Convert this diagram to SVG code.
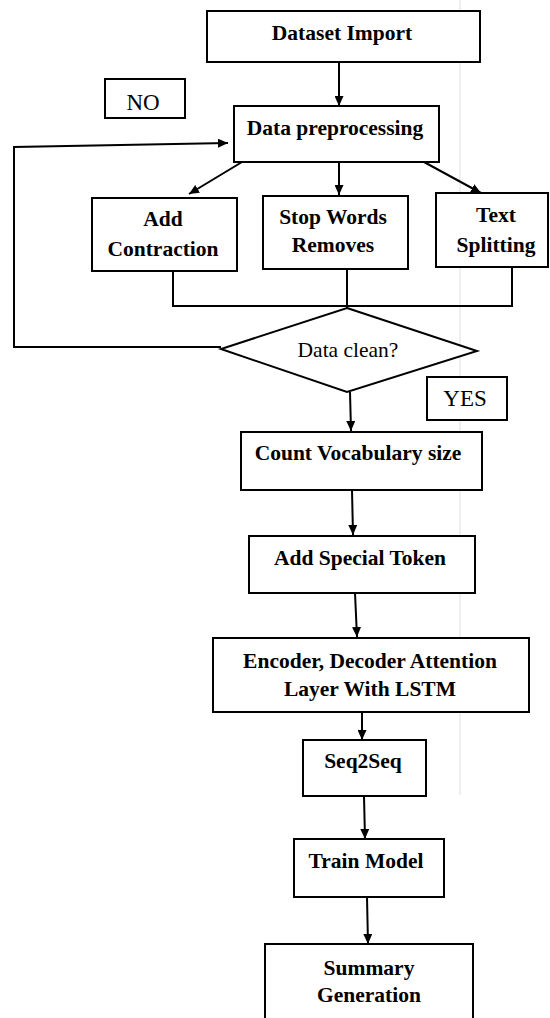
<svg xmlns="http://www.w3.org/2000/svg" width="550" height="1018" viewBox="0 0 550 1018">
<defs>
<marker id="arr" markerUnits="userSpaceOnUse" markerWidth="10" markerHeight="9" refX="10" refY="4.5" orient="auto">
<path d="M0,0 L10,4.5 L0,9 z" fill="#000"/>
</marker>
<style>
.box{fill:#fff;stroke:#000;stroke-width:2}
.lbl{fill:none;stroke:#000;stroke-width:2}
.t{font-family:"Liberation Serif","Times New Roman",serif;font-weight:bold;font-size:21.5px;text-anchor:middle;fill:#000}
.r{font-family:"Liberation Serif","Times New Roman",serif;font-size:21.5px;text-anchor:middle;fill:#000}
.c{fill:none;stroke:#000;stroke-width:2}
.ca{fill:none;stroke:#000;stroke-width:2;marker-end:url(#arr)}
</style>
</defs>
<rect width="550" height="1018" fill="#fff"/>
<line x1="460" y1="0" x2="460" y2="795" stroke="#efefef" stroke-width="2"/>
<g id="connectors">
<line class="ca" x1="339" y1="62" x2="339" y2="106"/>
<line class="ca" x1="242" y1="162" x2="189" y2="194"/>
<line class="ca" x1="339" y1="162" x2="339" y2="195"/>
<line class="ca" x1="424" y1="162" x2="481" y2="193"/>
<polyline class="c" points="173,271 173,306 512,306 512,267"/>
<line class="c" x1="347" y1="269" x2="347" y2="308"/>
<polyline class="ca" points="221,347 14,347 14,147 228,143"/>
<line class="ca" x1="350" y1="392" x2="351" y2="431"/>
<line class="ca" x1="352" y1="490" x2="353" y2="535"/>
<line class="ca" x1="355" y1="593" x2="357" y2="637"/>
<line class="ca" x1="362" y1="712" x2="362" y2="740"/>
<line class="ca" x1="364" y1="796" x2="365" y2="839"/>
<line class="ca" x1="367" y1="897" x2="368" y2="944"/>
</g>
<g id="dataset-import">
<rect class="box" x="207" y="11" width="273" height="51"/>
<text class="t" x="342" y="40">Dataset Import</text>
</g>
<g id="label-no">
<rect class="box" x="105" y="79" width="80" height="39"/>
<text class="r" x="143" y="110" style="font-size:23px">NO</text>
</g>
<g id="data-preprocessing">
<rect class="box" x="234" y="106" width="205" height="56"/>
<text class="t" x="335" y="135">Data preprocessing</text>
</g>
<g id="add-contraction">
<rect class="box" x="92" y="198" width="145" height="73"/>
<text class="t" x="163" y="226">Add</text>
<text class="t" x="163" y="256">Contraction</text>
</g>
<g id="stop-words">
<rect class="box" x="263" y="196" width="145" height="73"/>
<text class="t" x="333" y="224">Stop Words</text>
<text class="t" x="333" y="252">Removes</text>
</g>
<g id="text-splitting">
<rect class="box" x="436" y="193" width="112" height="74"/>
<text class="t" x="496" y="222">Text</text>
<text class="t" x="496" y="252">Splitting</text>
</g>
<g id="data-clean">
<polygon class="box" points="347,308 477,351 347,392 221,349"/>
<text class="r" x="348" y="357">Data clean?</text>
</g>
<g id="label-yes">
<rect class="box" x="427" y="377" width="80" height="43"/>
<text class="r" x="465" y="406" style="font-size:23px">YES</text>
</g>
<g id="count-vocabulary">
<rect class="box" x="241" y="432" width="241" height="58"/>
<text class="t" x="358" y="460">Count Vocabulary size</text>
</g>
<g id="special-token">
<rect class="box" x="249" y="536" width="226" height="57"/>
<text class="t" x="360" y="565">Add Special Token</text>
</g>
<g id="encoder-decoder">
<rect class="box" x="213" y="638" width="316" height="74"/>
<text class="t" x="370" y="668">Encoder, Decoder Attention</text>
<text class="t" x="370" y="696">Layer With LSTM</text>
</g>
<g id="seq2seq">
<rect class="box" x="303" y="740" width="123" height="56"/>
<text class="t" x="363" y="768">Seq2Seq</text>
</g>
<g id="train-model">
<rect class="box" x="294" y="839" width="150" height="58"/>
<text class="t" x="366" y="868">Train Model</text>
</g>
<g id="summary-generation">
<polyline class="lbl" points="265,1020 265,944 473,944 473,1020"/>
<text class="t" x="369" y="975">Summary</text>
<text class="t" x="369" y="1002">Generation</text>
</g>
</svg>
